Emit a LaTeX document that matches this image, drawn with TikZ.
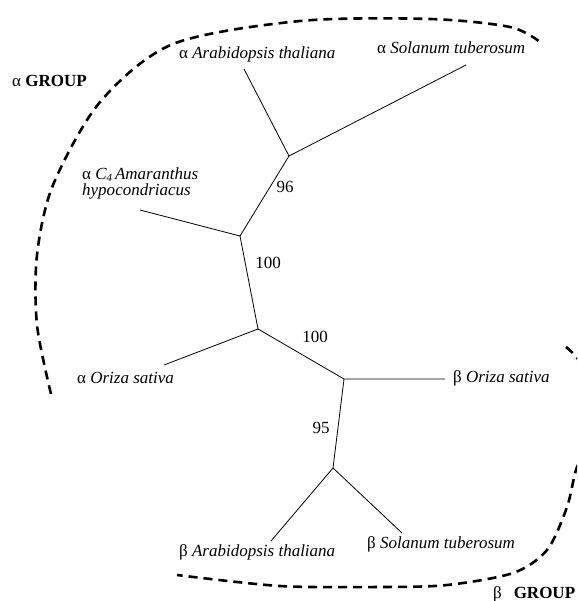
\documentclass[tikz,border=0pt]{standalone}
\usepackage{fontspec}
\setmainfont{Liberation Serif}
\tikzset{
  branch/.style={draw, line width=0.8pt},
  grp/.style={line width=2.6pt, dash pattern=on 9pt off 6pt},
  lbl/.style={anchor=base west, inner sep=0pt, font=\fontsize{17}{13}\selectfont},
  boot/.style={anchor=base, inner sep=0pt, font=\fontsize{17}{13}\selectfont},
}
\newcommand{\subfour}{\raisebox{-1.5pt}{\fontsize{11}{11}\selectfont 4}}
\begin{document}
\begin{tikzpicture}[x=1pt,y=-1pt]
\useasboundingbox (0,0) rectangle (577,601);
\clip (0,0) rectangle (577,601);
% tree junctions and leaves
\coordinate (A) at (289,156);
\coordinate (B) at (240,236);
\coordinate (C) at (258,329);
\coordinate (D) at (344,379);
\coordinate (E) at (333,468);
\coordinate (aAra) at (244,69);
\coordinate (aSol) at (466,65);
\coordinate (aAma) at (140,210);
\coordinate (aOri) at (164,365);
\coordinate (bOri) at (445,379);
\coordinate (bAra) at (271,541);
\coordinate (bSol) at (402,533);
\draw[branch] (aAra) -- (A) -- (aSol);
\draw[branch] (A) -- (B) -- (aAma);
\draw[branch] (B) -- (C) -- (aOri);
\draw[branch] (C) -- (D) -- (bOri);
\draw[branch] (D) -- (E) -- (bAra);
\draw[branch] (E) -- (bSol);
% labels
\node[lbl, align=left, font=\fontsize{17}{16}\selectfont] (laAma) at (82,196) {α \textit{C\subfour\,Amaranthus}\\\textit{hypocondriacus}};
\node[lbl] (laAra) at (179,59) {α \textit{Arabidopsis thaliana}};
\node[lbl] (laSol) at (377,54) {α \textit{Solanum tuberosum}};
\node[lbl] (laOri) at (77,383) {α \textit{Oriza sativa}};
\node[lbl] (lbOri) at (453,382) {β \textit{Oriza sativa}};
\node[lbl] (lbAra) at (179,556) {β \textit{Arabidopsis thaliana}};
\node[lbl] (lbSol) at (367,548) {β \textit{Solanum tuberosum}};
\node[lbl] (galpha) at (12,87) {α \textbf{GROUP}};
\node[lbl] (gbeta) at (493,598) {β\hspace{0.7em}\textbf{GROUP}};
% bootstrap values
\node[boot] (b96) at (285,193) {96};
\node[boot] (b100a) at (268,268) {100};
\node[boot] (b100b) at (315,342) {100};
\node[boot] (b95) at (321,433) {95};
% group outlines
\draw[grp] plot[smooth] coordinates {(51,394) (37,325) (37,255) (53,185) (100,102) (173,44) (300,21) (430,19) (510,27) (540,42)};
\draw[grp] plot[smooth] coordinates {(566,347) (580,362) (602,405) (592,445) (577,467) (567,507) (547,550) (513,573) (447,585) (380,587) (280,586) (177,575)};
\end{tikzpicture}
\end{document}
